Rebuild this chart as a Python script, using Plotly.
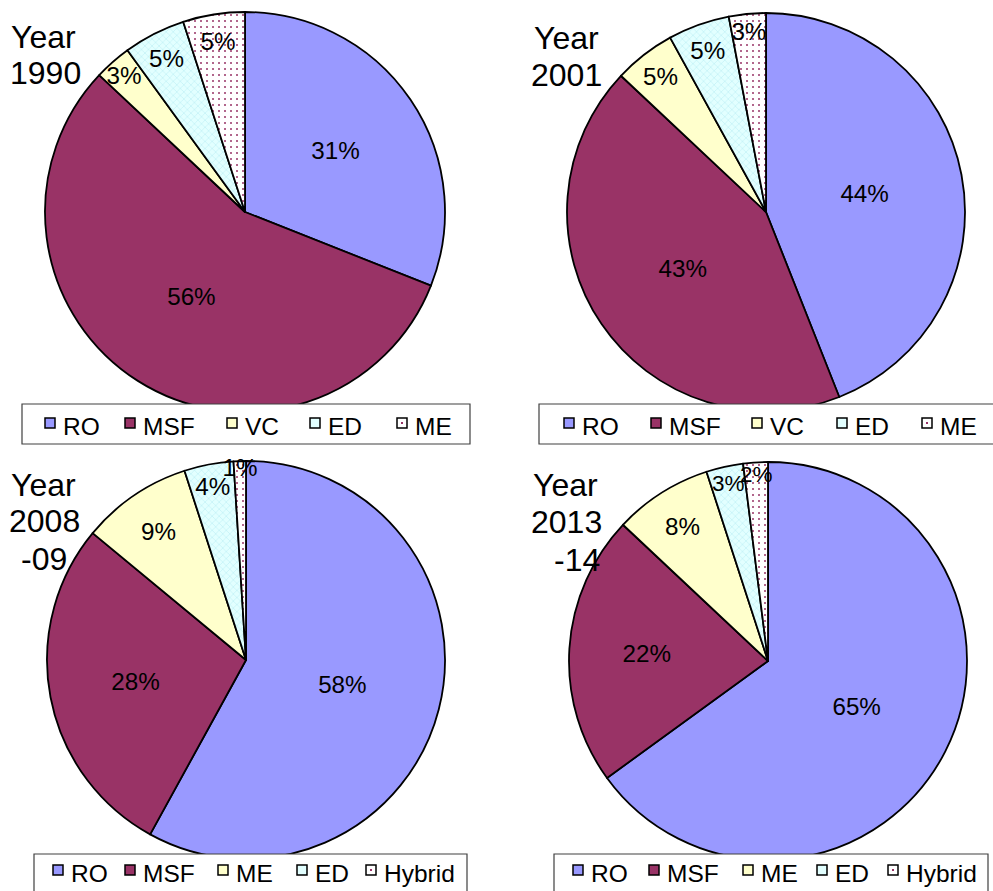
import plotly.graph_objects as go

W, H = 993, 891

# Market share of desalination technologies (% of installed capacity)
years = ["1990", "2001", "2008-09", "2013-14"]
year_lines = [["Year", "1990"], ["Year", "2001"], ["Year", "2008", "-09"], ["Year", "2013", "-14"]]
labels_early = ["RO", "MSF", "VC", "ED", "ME"]
labels_late = ["RO", "MSF", "ME", "ED", "Hybrid"]
share_1990 = [31, 56, 3, 5, 5]
share_2001 = [44, 43, 5, 5, 3]
share_2008 = [58, 28, 9, 4, 1]
share_2013 = [65, 22, 8, 3, 2]

FONT = "Arial, Liberation Sans, sans-serif"
fills = ["#9999FF", "#993366", "#FFFFCC", "#E2FFFF", "#FFFFFF"]
pat_shape = ["", "", "", "x", "."]
pat_fg = ["#9999FF", "#993366", "#FFFFCC", "#B4EAF2", "#993366"]
pat_size = [8, 8, 8, 5, 6]
pat_sol = [0.3, 0.3, 0.3, 0.18, 0.09]

panels = [
    dict(labels=labels_early, values=share_1990, cx=245, cy=212, r=200,
         text_size=[25, 25, 25, 25, 25],
         title_x=[43, 45], title_y=[37, 73],
         box=(22, 404, 470, 444), leg_x=[50, 130, 232, 315, 402], leg_y=423),
    dict(labels=labels_early, values=share_2001, cx=766, cy=212, r=199,
         text_size=[25, 25, 25, 25, 25],
         title_x=[566, 566], title_y=[38, 75],
         box=(539, 404, 1000, 444), leg_x=[569, 656, 757, 842, 927], leg_y=423),
    dict(labels=labels_late, values=share_2008, cx=246, cy=660, r=199,
         text_size=[25, 25, 25, 25, 25],
         title_x=[43, 44, 44], title_y=[485, 521, 559],
         box=(34, 854, 467, 900), leg_x=[58, 130, 223, 302, 371], leg_y=870),
    dict(labels=labels_late, values=share_2013, cx=768, cy=661, r=199,
         text_size=[25, 25, 25, 22.5, 22.5],
         title_x=[565, 566, 577], title_y=[485, 522, 560],
         box=(554, 854, 988, 900), leg_x=[578, 654, 748, 822, 893], leg_y=870),
]

fig = go.Figure()
shapes, annotations = [], []

for i, p in enumerate(panels):
    cx, cy, r = p["cx"], p["cy"], p["r"]
    fig.add_trace(go.Pie(
        labels=p["labels"], values=p["values"], name=years[i],
        sort=False, direction="clockwise", rotation=0,
        domain=dict(x=[(cx - r) / W, (cx + r) / W],
                    y=[(H - cy - r) / H, (H - cy + r) / H]),
        marker=dict(colors=fills, line=dict(color="#000000", width=1.8),
                    pattern=dict(shape=pat_shape, fgcolor=pat_fg, bgcolor=fills,
                                 size=pat_size, solidity=pat_sol)),
        texttemplate="%{value}%", textposition="inside",
        insidetextorientation="horizontal",
        textfont=dict(family=FONT, size=p["text_size"], color="#000000"),
        hoverinfo="label+value", showlegend=False,
    ))

    # year caption, one line per annotation
    for line, tx, ty in zip(year_lines[i], p["title_x"], p["title_y"]):
        annotations.append(dict(
            text=line, x=tx / W, y=1 - ty / H, xref="paper", yref="paper",
            xanchor="center", yanchor="middle", showarrow=False,
            font=dict(family=FONT, size=32, color="#000000")))

    # legend box under each pie
    x0, y0, x1, y1 = p["box"]
    shapes.append(dict(type="rect", xref="paper", yref="paper", layer="above",
                       x0=x0 / W, x1=x1 / W, y0=1 - y1 / H, y1=1 - y0 / H,
                       fillcolor="#FFFFFF", line=dict(color="#404040", width=1.2)))
    for k, (lab, lx) in enumerate(zip(p["labels"], p["leg_x"])):
        ly = p["leg_y"]
        shapes.append(dict(type="rect", xref="paper", yref="paper", layer="above",
                           x0=(lx - 5) / W, x1=(lx + 5) / W,
                           y0=1 - (ly + 5) / H, y1=1 - (ly - 5) / H,
                           fillcolor=fills[k], line=dict(color="#000000", width=1.5)))
        if pat_shape[k] == ".":
            shapes.append(dict(type="rect", xref="paper", yref="paper", layer="above",
                               x0=(lx - 1) / W, x1=(lx + 1) / W,
                               y0=1 - (ly + 1) / H, y1=1 - (ly - 1) / H,
                               fillcolor="#993366", line=dict(width=0)))
        annotations.append(dict(
            text=lab, x=(lx + 11) / W, y=1 - (ly + 3) / H, xref="paper", yref="paper",
            xanchor="left", yanchor="middle", showarrow=False,
            font=dict(family=FONT, size=24.5, color="#000000")))

fig.update_layout(
    width=W, height=H, margin=dict(l=0, r=0, t=0, b=0),
    paper_bgcolor="#FFFFFF", plot_bgcolor="#FFFFFF",
    uniformtext=dict(minsize=22, mode="show"),
    shapes=shapes, annotations=annotations, showlegend=False,
)

fig.write_html("out.html")
